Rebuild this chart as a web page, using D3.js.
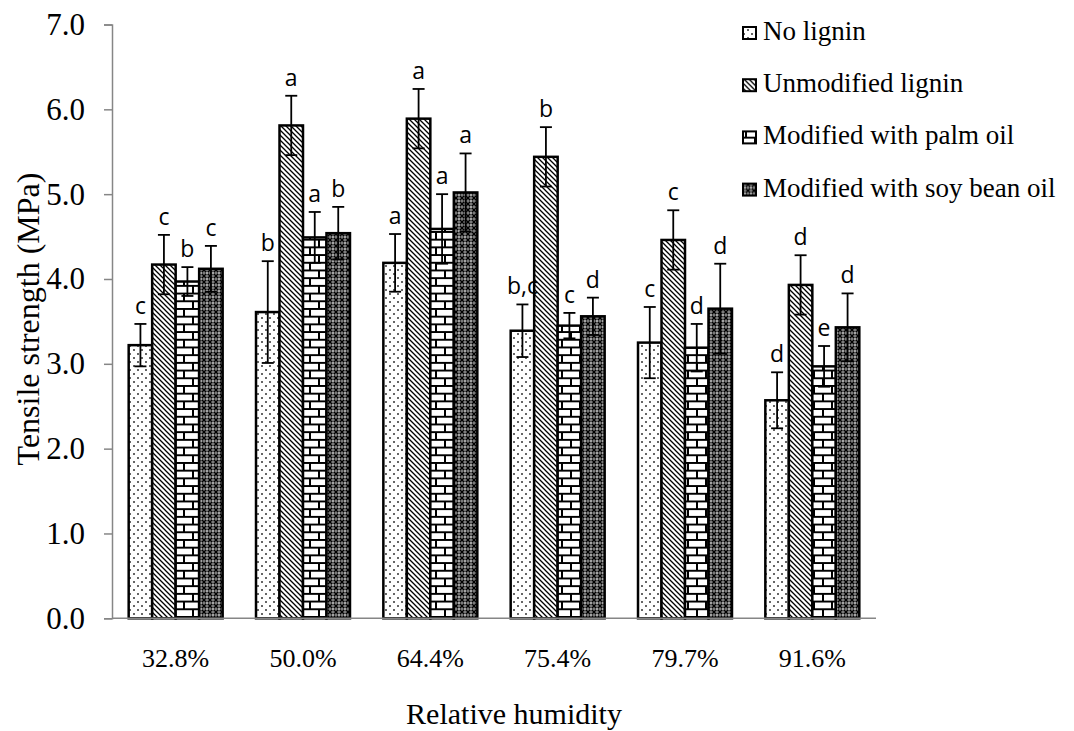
<!DOCTYPE html>
<html>
<head>
<meta charset="utf-8">
<script src="https://cdn.jsdelivr.net/npm/d3@7"></script>
<style>
  body { margin: 0; background: #fff; }
  svg { display: block; }
  .serif { font-family: "Liberation Serif", "DejaVu Serif", serif; }
  .sans { font-family: "Open Sans", "Noto Sans", sans-serif; }
</style>
</head>
<body>
<div id="chart"></div>
<script>
// humidity levels on the x axis
var categories = ["32.8%", "50.0%", "64.4%", "75.4%", "79.7%", "91.6%"];
var seriesNames = ["No lignin", "Unmodified lignin", "Modified with palm oil", "Modified with soy bean oil"];

// mean tensile strength (MPa), one array per series
var noLignin   = [3.22, 3.61, 4.19, 3.39, 3.25, 2.57];
var unmodified = [4.17, 5.81, 5.89, 5.44, 4.46, 3.93];
var palmOil    = [3.97, 4.49, 4.59, 3.45, 3.19, 2.97];
var soyOil     = [4.12, 4.54, 5.02, 3.56, 3.65, 3.43];

// standard deviations
var noLigninErr   = [0.25, 0.60, 0.34, 0.31, 0.42, 0.33];
var unmodifiedErr = [0.35, 0.35, 0.35, 0.35, 0.35, 0.35];
var palmOilErr    = [0.17, 0.30, 0.41, 0.15, 0.28, 0.24];
var soyOilErr     = [0.27, 0.31, 0.46, 0.22, 0.53, 0.40];

// significance letters
var noLigninSig   = ["c", "b", "a", "b,c", "c", "d"];
var unmodifiedSig = ["c", "a", "a", "b", "c", "d"];
var palmOilSig    = ["b", "a", "a", "c", "d", "e"];
var soyOilSig     = ["c", "b", "a", "d", "d", "d"];

var yTicks = [0, 1, 2, 3, 4, 5, 6, 7];

var values = [noLignin, unmodified, palmOil, soyOil];
var errors = [noLigninErr, unmodifiedErr, palmOilErr, soyOilErr];
var sigs = [noLigninSig, unmodifiedSig, palmOilSig, soyOilSig];
var patternIds = ["pDots", "pDiag", "pBrick", "pCross"];

var width = 1074, height = 731;
var svg = d3.select("#chart").append("svg")
    .attr("width", width)
    .attr("height", height);

// ---- patterns
var defs = svg.append("defs");

var p1 = defs.append("pattern").attr("id", "pDots")
    .attr("patternUnits", "userSpaceOnUse").attr("width", 8).attr("height", 8);
p1.append("rect").attr("width", 8).attr("height", 8).attr("fill", "#fff");
p1.append("rect").attr("x", 1).attr("y", 1).attr("width", 2).attr("height", 2).attr("fill", "#666");
p1.append("rect").attr("x", 5).attr("y", 5).attr("width", 2).attr("height", 2).attr("fill", "#666");

var p2 = defs.append("pattern").attr("id", "pDiag")
    .attr("patternUnits", "userSpaceOnUse").attr("width", 5).attr("height", 5);
p2.append("rect").attr("width", 5).attr("height", 5).attr("fill", "#fff");
p2.append("path").attr("d", "M-1,-1L6,6M-1,4L1,6M4,-1L6,1")
    .attr("stroke", "#000").attr("stroke-width", 1.3);

var p3 = defs.append("pattern").attr("id", "pBrick")
    .attr("patternUnits", "userSpaceOnUse").attr("width", 18).attr("height", 15.4);
p3.append("rect").attr("width", 18).attr("height", 15.4).attr("fill", "#fff");
p3.append("path")
    .attr("d", "M0,1H18M0,8.7H18M4,1V8.7M13,8.7V15.4")
    .attr("stroke", "#000").attr("stroke-width", 2);

var p4 = defs.append("pattern").attr("id", "pCross")
    .attr("patternUnits", "userSpaceOnUse").attr("width", 6).attr("height", 6);
p4.append("rect").attr("width", 6).attr("height", 6).attr("fill", "#7a7a7a");
p4.append("path").attr("d", "M0,0L6,6M6,0L0,6")
    .attr("stroke", "#000").attr("stroke-width", 1.3);
p4.append("rect").attr("x", 2.2).attr("y", 2.2).attr("width", 1.6).attr("height", 1.6).attr("fill", "#fff");

// ---- scales
var x = d3.scaleBand()
    .domain(categories)
    .range([112, 876])
    .paddingInner(0.262)
    .paddingOuter(0.131);

var xs = d3.scaleBand()
    .domain(d3.range(seriesNames.length))
    .range([0, x.bandwidth()]);

var y = d3.scaleLinear()
    .domain([0, 7])
    .range([618.3, 24.5]);

// ---- y axis
var yAxis = svg.append("g")
    .attr("transform", "translate(112,0)")
    .call(d3.axisLeft(y).tickValues(yTicks).tickSize(8).tickPadding(19)
      .tickFormat(d3.format(".1f")));
yAxis.attr("font-family", null).attr("font-size", null);
yAxis.select(".domain").attr("stroke", "#868686").attr("stroke-width", 1.5);
yAxis.selectAll(".tick line").attr("stroke", "#868686").attr("stroke-width", 1.5);
yAxis.selectAll(".tick text")
    .attr("class", "serif")
    .attr("fill", "#000")
    .style("font-size", "31px");

// ---- bars
var cells = [];
values.forEach(function(arr, s) {
  arr.forEach(function(v, i) {
    cells.push({ s: s, cat: categories[i], v: v, e: errors[s][i], sig: sigs[s][i] });
  });
});

var bars = svg.append("g").attr("class", "bars");
bars.selectAll("rect")
    .data(cells)
    .enter().append("rect")
    .attr("x", function(d) { return x(d.cat) + xs(d.s); })
    .attr("y", function(d) { return y(d.v); })
    .attr("width", xs.bandwidth())
    .attr("height", function(d) { return y(0) - y(d.v); })
    .attr("fill", function(d) { return "url(#" + patternIds[d.s] + ")"; })
    .attr("stroke", "#000")
    .attr("stroke-width", 2.5);

// x axis baseline
svg.append("line")
    .attr("x1", 112).attr("x2", 876)
    .attr("y1", y(0)).attr("y2", y(0))
    .attr("stroke", "#868686").attr("stroke-width", 1.5);

// ---- error bars
var eb = svg.append("g").attr("class", "errorbars")
    .attr("stroke", "#000").attr("stroke-width", 1.8);
cells.forEach(function(d) {
  var cx = x(d.cat) + xs(d.s) + xs.bandwidth() / 2;
  eb.append("line").attr("x1", cx).attr("x2", cx)
      .attr("y1", y(d.v - d.e)).attr("y2", y(d.v + d.e));
  eb.append("line").attr("x1", cx - 6).attr("x2", cx + 6)
      .attr("y1", y(d.v + d.e)).attr("y2", y(d.v + d.e));
  eb.append("line").attr("x1", cx - 6).attr("x2", cx + 6)
      .attr("y1", y(d.v - d.e)).attr("y2", y(d.v - d.e));
});

// ---- significance letters
svg.append("g").selectAll("text")
    .data(cells)
    .enter().append("text")
    .attr("class", "sans")
    .attr("x", function(d) { return x(d.cat) + xs(d.s) + xs.bandwidth() / 2; })
    .attr("y", function(d) { return y(d.v + d.e) - 10; })
    .attr("text-anchor", "middle")
    .style("font-size", "23px")
    .attr("fill", "#000")
    .text(function(d) { return d.sig; });

// ---- x labels
svg.append("g").selectAll("text")
    .data(categories)
    .enter().append("text")
    .attr("class", "serif")
    .attr("x", function(d) { return x(d) + x.bandwidth() / 2; })
    .attr("y", 667)
    .attr("text-anchor", "middle")
    .style("font-size", "26px")
    .text(function(d) { return d; });

// axis titles
svg.append("text")
    .attr("class", "serif")
    .attr("x", 514).attr("y", 724)
    .attr("text-anchor", "middle")
    .style("font-size", "30px")
    .text("Relative humidity");

svg.append("text")
    .attr("class", "serif")
    .attr("transform", "translate(39,319) rotate(-90)")
    .attr("text-anchor", "middle")
    .style("font-size", "32px")
    .text("Tensile strength (MPa)");

// ---- legend
var legend = svg.append("g").attr("transform", "translate(742,40)");
var item = legend.selectAll("g")
    .data(seriesNames)
    .enter().append("g")
    .attr("transform", function(d, i) { return "translate(0," + (i * 52.2) + ")"; });
item.append("rect")
    .attr("x", 1).attr("y", -13)
    .attr("width", 13).attr("height", 12)
    .attr("fill", function(d, i) { return "url(#" + patternIds[i] + ")"; })
    .attr("stroke", "#000").attr("stroke-width", 2);
item.append("text")
    .attr("class", "serif")
    .attr("x", 21).attr("y", 0)
    .style("font-size", "27px")
    .text(function(d) { return d; });
</script>
</body>
</html>
